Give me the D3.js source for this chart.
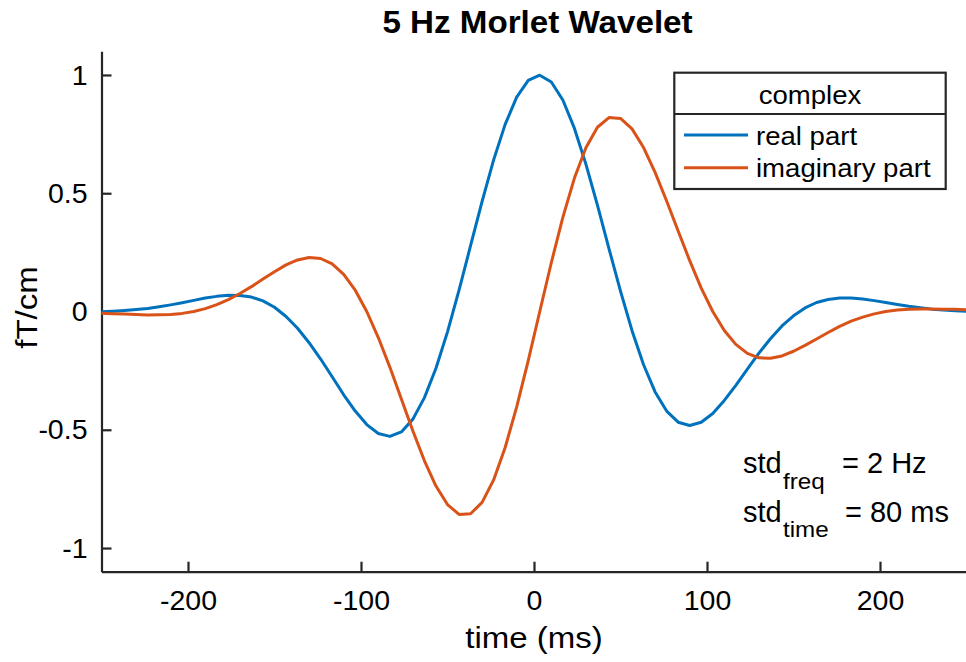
<!DOCTYPE html>
<html>
<head>
<meta charset="utf-8">
<script src="https://cdn.jsdelivr.net/npm/d3@7"></script>
<style>
  html, body { margin: 0; padding: 0; background: #fff; }
  svg { display: block; font-family: "Liberation Sans", Arial, sans-serif; }
</style>
</head>
<body>
<div id="chart"></div>
<script>
// sample times (ms) and the two parts of the wavelet
const time = [-250, -243.33, -236.67, -230, -223.33, -216.67, -210, -203.33, -196.67, -190,
  -183.33, -176.67, -170, -163.33, -156.67, -150, -143.33, -136.67, -130, -123.33,
  -116.67, -110, -103.33, -96.67, -90, -83.33, -76.67, -70, -63.33, -56.67,
  -50, -43.33, -36.67, -30, -23.33, -16.67, -10, -3.33, 3.33, 10,
  16.67, 23.33, 30, 36.67, 43.33, 50, 56.67, 63.33, 70, 76.67,
  83.33, 90, 96.67, 103.33, 110, 116.67, 123.33, 130, 136.67, 143.33,
  150, 156.67, 163.33, 170, 176.67, 183.33, 190, 196.67, 203.33, 210,
  216.67, 223.33, 230, 236.67, 243.33, 250];

const realPart = [-0.001, 0.001, 0.004, 0.008, 0.013, 0.020, 0.028, 0.037, 0.047, 0.057,
  0.064, 0.069, 0.068, 0.061, 0.045, 0.018, -0.021, -0.071, -0.132, -0.201,
  -0.276, -0.352, -0.421, -0.478, -0.516, -0.528, -0.509, -0.455, -0.364, -0.240,
  -0.086, 0.090, 0.278, 0.466, 0.641, 0.791, 0.906, 0.977, 0.999, 0.970,
  0.894, 0.775, 0.623, 0.450, 0.266, 0.086, -0.081, -0.225, -0.340, -0.421,
  -0.468, -0.482, -0.468, -0.431, -0.376, -0.312, -0.244, -0.176, -0.115, -0.061,
  -0.018, 0.015, 0.038, 0.051, 0.057, 0.057, 0.053, 0.046, 0.038, 0.030,
  0.022, 0.016, 0.010, 0.006, 0.003, 0.001];

const imagPart = [-0.007, -0.009, -0.011, -0.013, -0.015, -0.014, -0.013, -0.008, 0.000, 0.012,
  0.029, 0.050, 0.076, 0.105, 0.137, 0.168, 0.197, 0.218, 0.228, 0.224,
  0.201, 0.157, 0.090, 0.000, -0.110, -0.235, -0.370, -0.505, -0.631, -0.738,
  -0.816, -0.858, -0.855, -0.807, -0.712, -0.575, -0.403, -0.208, 0.000, 0.206,
  0.398, 0.563, 0.692, 0.779, 0.820, 0.816, 0.772, 0.693, 0.588, 0.467,
  0.340, 0.215, 0.099, 0.000, -0.080, -0.139, -0.177, -0.196, -0.198, -0.188,
  -0.168, -0.143, -0.116, -0.089, -0.063, -0.041, -0.024, -0.010, 0.000, 0.006,
  0.010, 0.011, 0.011, 0.010, 0.009, 0.007];

const seriesNames = ["real part", "imaginary part"];
const legendTitle = "complex";
const xTicks = [-200, -100, 0, 100, 200];
const xTickLabels = ["-200", "-100", "0", "100", "200"];
const yTicks = [-1, -0.5, 0, 0.5, 1];
const yTickLabels = ["-1", "-0.5", "0", "0.5", "1"];

const width = 966, height = 662;
const colors = ["#0072BD", "#D95319"];
const axisColor = "#262626";

const svg = d3.select("#chart").append("svg")
  .attr("width", width)
  .attr("height", height);

const x = d3.scaleLinear().domain([-250, 250]).range([101.5, 966.5]);
const y = d3.scaleLinear().domain([-1.1, 1.1]).range([571.7, 51.3]);

// text with a slight horizontal stretch, the figure's font runs wider than Arial
function label(x0, y0, txt, size, sx, anchor, weight) {
  return svg.append("text")
    .attr("transform", `translate(${x0},${y0}) scale(${sx},1)`)
    .attr("text-anchor", anchor || "start")
    .attr("font-size", size)
    .attr("font-weight", weight || "normal")
    .attr("fill", "#000")
    .text(txt);
}

// axes, ticks pointing inwards
const xAxis = svg.append("g")
  .attr("transform", `translate(0,${y.range()[0]})`)
  .call(d3.axisBottom(x)
    .tickValues(xTicks)
    .tickFormat((d, i) => xTickLabels[i])
    .tickSizeInner(-10).tickSizeOuter(0).tickPadding(18));

const yAxis = svg.append("g")
  .attr("transform", `translate(${x.range()[0]},0)`)
  .call(d3.axisLeft(y)
    .tickValues(yTicks)
    .tickFormat((d, i) => yTickLabels[i])
    .tickSizeInner(-10).tickSizeOuter(0).tickPadding(14));

[xAxis, yAxis].forEach(a => {
  a.select(".domain").attr("stroke", axisColor).attr("stroke-width", 2.2);
  a.selectAll(".tick line").attr("stroke", axisColor).attr("stroke-width", 2.2);
  a.selectAll(".tick text").attr("fill", "#000").attr("font-size", 28.5)
    .attr("font-family", "Liberation Sans, Arial, sans-serif");
});

// curves
const line = d3.line().x((d, i) => x(time[i])).y(d => y(d));
[realPart, imagPart].forEach((s, i) => {
  svg.append("path")
    .datum(s)
    .attr("fill", "none")
    .attr("stroke", colors[i])
    .attr("stroke-width", 3)
    .attr("stroke-linejoin", "round")
    .attr("d", line);
});

// titles
label(537.5, 33.3, "5 Hz Morlet Wavelet", 31, 1.07, "middle", "bold");
label(534, 648, "time (ms)", 30, 1.1, "middle");
svg.append("text")
  .attr("transform", "translate(37,307.5) rotate(-90) scale(1.1,1)")
  .attr("text-anchor", "middle")
  .attr("font-size", 30)
  .attr("fill", "#000")
  .text("fT/cm");

// legend
const lg = svg.append("g");
lg.append("rect")
  .attr("x", 674.3).attr("y", 72.7)
  .attr("width", 271.4).attr("height", 116.3)
  .attr("fill", "#fff").attr("stroke", axisColor).attr("stroke-width", 2.2);
lg.append("line")
  .attr("x1", 674.3).attr("x2", 945.7)
  .attr("y1", 114).attr("y2", 114)
  .attr("stroke", axisColor).attr("stroke-width", 2.2);
label(810, 104, legendTitle, 26, 1.06, "middle");
seriesNames.forEach((name, i) => {
  const ly = 135 + i * 32.7;
  svg.append("line")
    .attr("x1", 684).attr("x2", 748)
    .attr("y1", ly).attr("y2", ly)
    .attr("stroke", colors[i]).attr("stroke-width", 3);
  label(756, ly + 9.5, name, 26, 1.06);
});

// std annotation
label(743, 473, "std", 29, 1.0);
label(783, 488.5, "freq", 22, 1.1);
label(842, 473, "= 2 Hz", 29, 1.0);
label(743, 521.7, "std", 29, 1.0);
label(783, 537, "time", 22, 1.1);
label(845, 521.7, "= 80 ms", 29, 1.0);
</script>
</body>
</html>
